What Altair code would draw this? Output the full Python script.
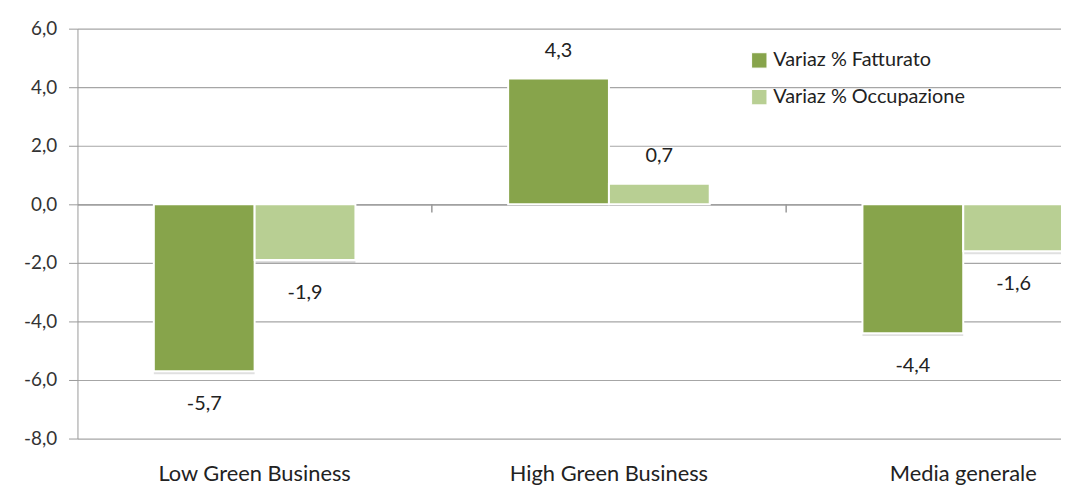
import altair as alt
import pandas as pd

categories = ["Low Green Business", "High Green Business", "Media generale"]
series = ["Variaz % Fatturato", "Variaz % Occupazione"]
fatturato = [-5.7, 4.3, -4.4]
occupazione = [-1.9, 0.7, -1.6]
y_ticks = [-8, -6, -4, -2, 0, 2, 4, 6]

rows = []
for c, f, o in zip(categories, fatturato, occupazione):
    rows.append({"cat": c, "serie": series[0], "val": f})
    rows.append({"cat": c, "serie": series[1], "val": o})
df = pd.DataFrame(rows)
bounds = pd.DataFrame({"cat": categories[:-1]})

FONT = "Lato"
colors = ["#87A44B", "#B8CF93"]
FMT = "replace(replace(format({v}, '.1f'), '.', ','), '\u2212', '-')"

x_scale = alt.Scale(domain=categories, range=[0, 1071], paddingInner=0.431, paddingOuter=0.2155)
x_axis = alt.Axis(title=None, offset=-236, ticks=False, domainColor="#999999",
                  domainWidth=1.2, labelPadding=261, labelLimit=0,
                  labelFont=FONT, labelFontSize=22,
                  labelColor="#222222", labelAngle=0, grid=False)
x_enc = alt.X("cat:N", sort=categories, scale=x_scale, axis=x_axis)
xo = alt.XOffset("serie:N", sort=series)
y_enc = alt.Y("val:Q", scale=alt.Scale(domain=[-8, 6], nice=False, zero=False),
              axis=alt.Axis(title=None, values=y_ticks, labelExpr=FMT.format(v="datum.value"),
                            labelFont=FONT, labelFontSize=19, labelColor="#333333", labelPadding=12,
                            tickSize=9, tickColor="#999999", domainColor="#999999",
                            gridColor="#a6a6a6", gridWidth=1.2))

base = alt.Chart(df)

shadow = base.mark_bar(color="#000000", opacity=0.12, xOffset=3, yOffset=3).encode(
    x=x_enc, xOffset=xo, y=y_enc, y2=alt.datum(0))

bars = base.mark_bar(stroke="white", strokeWidth=2).encode(
    x=x_enc, xOffset=xo, y=y_enc, y2=alt.datum(0),
    color=alt.Color("serie:N", sort=series, scale=alt.Scale(domain=series, range=colors),
                    legend=alt.Legend(title=None, orient="none", legendX=677, legendY=22,
                                      symbolType="square", symbolSize=240, symbolStrokeColor="white",
                                      symbolStrokeWidth=1, labelFont=FONT, labelFontSize=20,
                                      labelLimit=0, labelColor="#222222", rowPadding=17,
                                      labelOffset=4)))

ticks = alt.Chart(bounds).mark_rule(color="#999999", strokeWidth=1.5, xOffset=77).encode(
    x=alt.X("cat:N", sort=categories, scale=x_scale, bandPosition=1, axis=x_axis),
    y=alt.datum(0), y2=alt.datum(-0.28))

lab = base.transform_calculate(lab=FMT.format(v="datum.val"))
pos_text = lab.transform_filter("datum.val > 0").mark_text(
    font=FONT, fontSize=20, color="#222222", dy=-28).encode(
    x=x_enc, xOffset=xo, y=y_enc, text="lab:N")
neg_text = lab.transform_filter("datum.val < 0").mark_text(
    font=FONT, fontSize=20, color="#222222", dy=33).encode(
    x=x_enc, xOffset=xo, y=y_enc, text="lab:N")

chart = alt.layer(shadow, bars, ticks, pos_text, neg_text).properties(
    width=991, height=413,
    autosize=alt.AutoSizeParams(type="none"),
    padding={"left": 70, "top": 19, "right": 0, "bottom": 45},
).configure_view(stroke=None)

chart.save("out.html", embed_options={"renderer": "svg", "actions": False})
